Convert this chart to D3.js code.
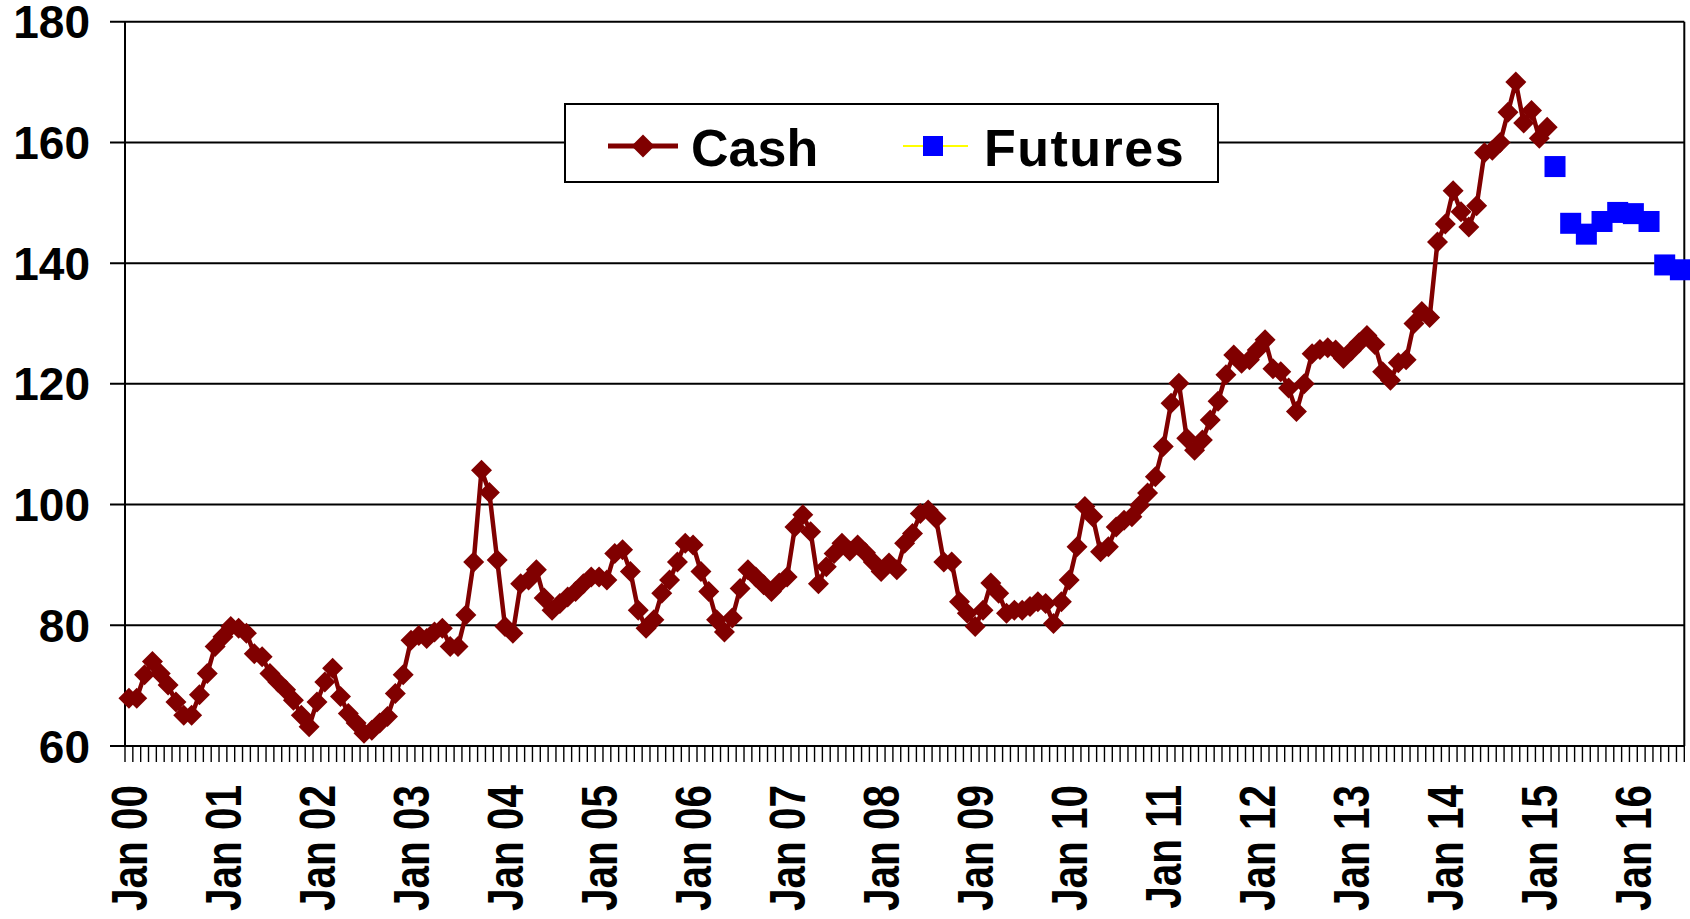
<!DOCTYPE html>
<html>
<head>
<meta charset="utf-8">
<script src="https://cdn.jsdelivr.net/npm/d3@7"></script>
<style>
  html, body { margin: 0; padding: 0; background: #fff; overflow: hidden; }
  svg { display: block; font-family: "Liberation Sans", Arial, sans-serif; font-weight: bold; }
</style>
</head>
<body>
<div class="canvas"></div>
<script>
// categories: monthly, Jan 2000 .. Jul 2016
const firstMonth = '2000-01';
const lastMonth = '2016-07';

const tickLabels = ['Jan 00', 'Jan 01', 'Jan 02', 'Jan 03', 'Jan 04', 'Jan 05', 'Jan 06', 'Jan 07',
  'Jan 08', 'Jan 09', 'Jan 10', 'Jan 11', 'Jan 12', 'Jan 13', 'Jan 14', 'Jan 15', 'Jan 16'];

const yTicks = [60, 80, 100, 120, 140, 160, 180];

// cash price, one value per month from Jan 2000
const cashValues = [
  67.9, 67.9, 71.8, 74.0, 72.0, 70.1, 67.3, 65.1, 65.1, 68.5, 72.0, 76.5,
  78.1, 79.8, 79.5, 78.7, 75.3, 74.8, 72.0, 70.6, 69.3, 67.6, 65.1, 63.2,
  67.3, 70.6, 72.9, 68.2, 65.4, 63.8, 62.1, 62.6, 63.8, 64.9, 68.7, 71.8,
  77.5, 78.3, 77.8, 78.9, 79.5, 76.5, 76.5, 81.7, 90.5, 105.7, 102.0, 90.8,
  79.8, 78.7, 86.9, 87.5, 89.2, 84.5, 82.5, 83.6, 84.7, 85.6, 86.9, 88.0,
  88.0, 87.5, 91.9, 92.5, 88.9, 82.5, 79.5, 80.9, 85.3, 87.5, 90.5, 93.6,
  93.3, 88.9, 85.6, 80.9, 78.9, 81.2, 86.1, 89.2, 88.0, 86.7, 85.6, 87.0,
  88.0, 96.3, 98.3, 95.5, 86.9, 89.7, 91.9, 93.6, 92.3, 93.3, 92.0, 90.5,
  88.9, 90.3, 89.2, 93.6, 95.2, 98.5, 99.1, 97.7, 90.5, 90.5, 83.9, 82.0,
  79.8, 82.5, 87.0, 85.3, 82.0, 82.5, 82.5, 83.1, 83.9, 83.6, 80.3, 83.9,
  87.5, 93.0, 99.7, 98.0, 92.2, 93.0, 96.3, 97.4, 98.0, 99.9, 101.9, 104.6,
  109.6, 116.8, 120.1, 111.0, 109.0, 110.7, 114.0, 117.1, 121.5, 124.8, 123.4, 124.0,
  125.6, 127.3, 122.5, 122.0, 119.3, 115.4, 120.0, 125.0, 125.7, 126.0, 125.6, 124.2,
  125.5, 126.8, 128.0, 126.5, 122.0, 120.6, 123.5, 124.0, 130.0, 132.0, 131.0, 143.5,
  146.5, 152.0, 148.5, 146.0, 149.5, 158.3, 158.7, 160.0, 165.0, 170.0, 163.2, 165.3,
  160.7, 162.5
];

const futuresMonths = ['2015-03', '2015-05', '2015-07', '2015-09', '2015-11',
  '2016-01', '2016-03', '2016-05', '2016-07'];
const futuresValues = [156.0, 146.6, 144.8, 146.9, 148.4, 148.2, 146.9, 139.7, 138.9];

const dims = { width: 1690, height: 919 };
const plot = { left: 125, right: 1684.3, top: 21.7, bottom: 746 };

const parse = d3.timeParse('%Y-%m');
const fmt = d3.timeFormat('%Y-%m');
const months = d3.timeMonth.range(parse(firstMonth), d3.timeMonth.offset(parse(lastMonth), 1)).map(fmt);

const cash = cashValues.map((v, i) => ({ month: months[i], value: v }));
const futures = futuresMonths.map((m, i) => ({ month: m, value: futuresValues[i] }));

const svg = d3.select('.canvas')
  .append('svg')
  .attr('width', dims.width)
  .attr('height', dims.height);

svg.append('rect')
  .attr('width', dims.width)
  .attr('height', dims.height)
  .attr('fill', '#fff');

const x = d3.scaleBand().domain(months).range([plot.left, plot.right]).paddingInner(0).paddingOuter(0);
const y = d3.scaleLinear().domain([60, 180]).range([plot.bottom, plot.top]);
const cx = m => x(m) + x.bandwidth() / 2;

// gridlines + y ticks
svg.append('g')
  .selectAll('line')
  .data(yTicks)
  .enter().append('line')
  .attr('x1', plot.left - 15)
  .attr('x2', plot.right)
  .attr('y1', d => y(d))
  .attr('y2', d => y(d))
  .attr('stroke', '#000')
  .attr('stroke-width', 2);

svg.append('g')
  .selectAll('text')
  .data(yTicks)
  .enter().append('text')
  .attr('x', 90)
  .attr('y', d => y(d))
  .attr('dy', '0.36em')
  .attr('text-anchor', 'end')
  .attr('font-size', 46)
  .attr('fill', '#000')
  .text(d => d);

// axes / border
svg.append('line')
  .attr('x1', plot.left).attr('x2', plot.left)
  .attr('y1', plot.top).attr('y2', plot.bottom)
  .attr('stroke', '#000').attr('stroke-width', 2);
svg.append('line')
  .attr('x1', plot.right).attr('x2', plot.right)
  .attr('y1', plot.top).attr('y2', plot.bottom)
  .attr('stroke', '#000').attr('stroke-width', 2);

// monthly tick marks at band edges
const edges = months.map(m => x(m)).concat([plot.right]);
svg.append('g')
  .selectAll('line')
  .data(edges)
  .enter().append('line')
  .attr('x1', d => d).attr('x2', d => d)
  .attr('y1', plot.bottom).attr('y2', plot.bottom + 16)
  .attr('stroke', '#000')
  .attr('stroke-width', 1.4);

// x labels (glyphs a bit stretched, as in the original)
svg.append('g')
  .selectAll('text')
  .data(tickLabels)
  .enter().append('text')
  .attr('transform', d => `translate(${cx('20' + d.slice(4) + '-01')}, 785) rotate(-90) scale(0.88, 1.08)`)
  .attr('text-anchor', 'end')
  .attr('dy', '0.36em')
  .attr('font-size', 46)
  .attr('fill', '#000')
  .text(d => d);

// cash line + diamonds
const diamond = r => `M0,${-r}L${r},0L0,${r}L${-r},0Z`;

svg.append('path')
  .datum(cash)
  .attr('fill', 'none')
  .attr('stroke', '#800000')
  .attr('stroke-width', 4.5)
  .attr('stroke-linejoin', 'round')
  .attr('d', d3.line().x(d => cx(d.month)).y(d => y(d.value)));

svg.append('g')
  .selectAll('path')
  .data(cash)
  .enter().append('path')
  .attr('transform', d => `translate(${cx(d.month)}, ${y(d.value)})`)
  .attr('d', diamond(10.5))
  .attr('fill', '#800000');

// futures squares
svg.append('g')
  .selectAll('rect')
  .data(futures)
  .enter().append('rect')
  .attr('x', d => cx(d.month) - 10.5)
  .attr('y', d => y(d.value) - 10.5)
  .attr('width', 21)
  .attr('height', 21)
  .attr('fill', '#0000ff');

// legend
const legend = svg.append('g');
legend.append('rect')
  .attr('x', 565).attr('y', 104)
  .attr('width', 653).attr('height', 78)
  .attr('fill', '#fff')
  .attr('stroke', '#000')
  .attr('stroke-width', 2);

legend.append('line')
  .attr('x1', 608).attr('x2', 678).attr('y1', 146).attr('y2', 146)
  .attr('stroke', '#800000').attr('stroke-width', 5);
legend.append('path')
  .attr('transform', 'translate(643, 146)')
  .attr('d', diamond(11.5))
  .attr('fill', '#800000');
legend.append('text')
  .attr('x', 691).attr('y', 166)
  .attr('font-size', 52)
  .attr('fill', '#000')
  .text('Cash');

legend.append('line')
  .attr('x1', 903).attr('x2', 968).attr('y1', 146).attr('y2', 146)
  .attr('stroke', '#ffff00').attr('stroke-width', 2);
legend.append('rect')
  .attr('x', 923).attr('y', 136)
  .attr('width', 20).attr('height', 20)
  .attr('fill', '#0000ff');
legend.append('text')
  .attr('x', 984).attr('y', 166)
  .attr('font-size', 52)
  .attr('letter-spacing', 1.5)
  .attr('fill', '#000')
  .text('Futures');
</script>
</body>
</html>
